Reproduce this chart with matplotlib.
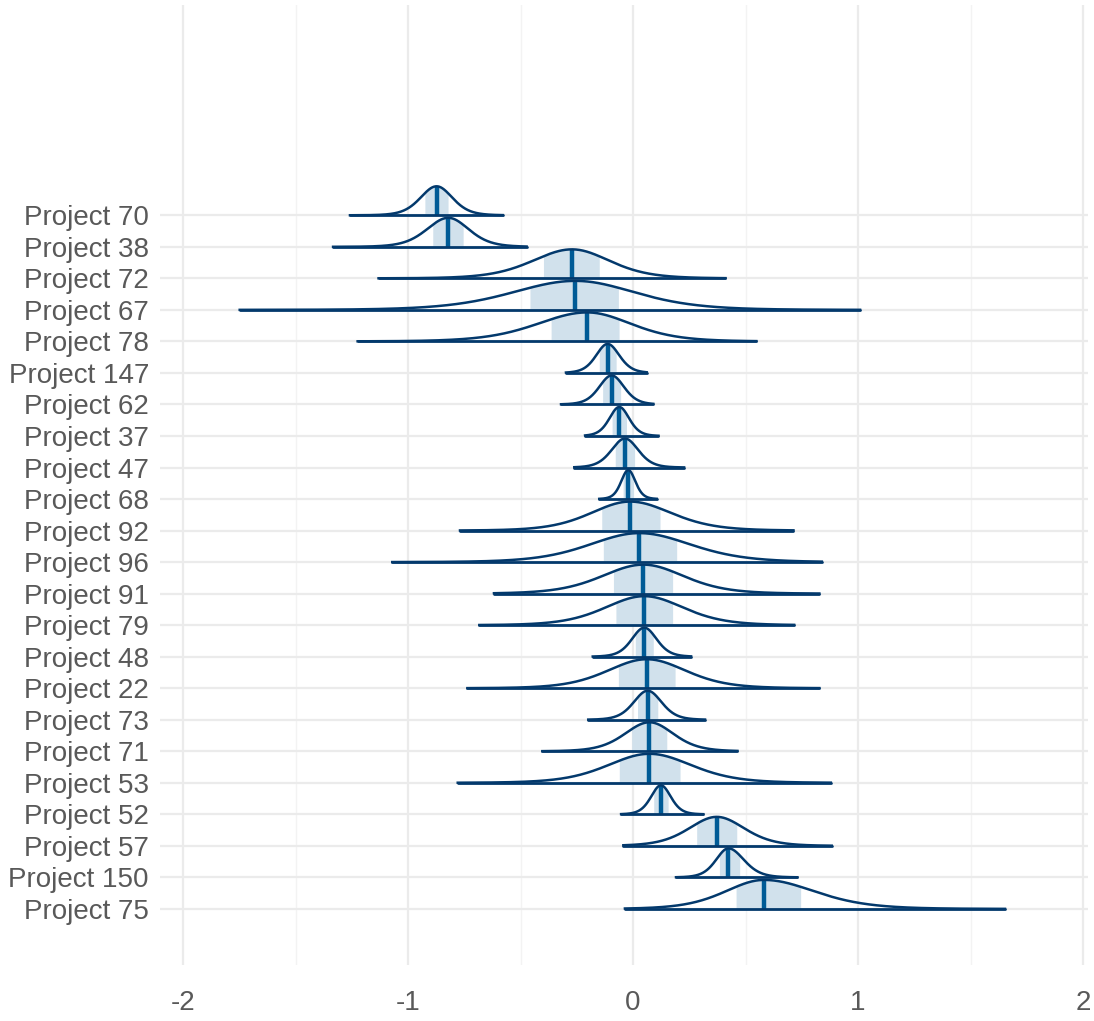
import numpy as np
import matplotlib
matplotlib.use("Agg")
import matplotlib.pyplot as plt

plt.rcParams['font.family'] = ['Liberation Sans', 'DejaVu Sans']

# top to bottom
projects = ["Project 70", "Project 38", "Project 72", "Project 67", "Project 78",
            "Project 147", "Project 62", "Project 37", "Project 47", "Project 68",
            "Project 92", "Project 96", "Project 91", "Project 79", "Project 48",
            "Project 22", "Project 73", "Project 71", "Project 53", "Project 52",
            "Project 57", "Project 150", "Project 75"]
medians = [-0.873, -0.821, -0.271, -0.256, -0.204,
           -0.113, -0.095, -0.061, -0.036, -0.021,
           -0.013, 0.028, 0.046, 0.050, 0.050,
           0.061, 0.065, 0.073, 0.073, 0.124,
           0.372, 0.424, 0.582]
inner_lo = [-0.925, -0.890, -0.398, -0.458, -0.364,
            -0.150, -0.135, -0.093, -0.079, -0.044,
            -0.139, -0.132, -0.087, -0.076, 0.010,
            -0.065, 0.020, -0.006, -0.061, 0.092,
            0.283, 0.384, 0.458]
inner_hi = [-0.822, -0.755, -0.150, -0.065, -0.062,
            -0.075, -0.055, -0.029, 0.007, 0.002,
            0.120, 0.194, 0.176, 0.176, 0.090,
            0.187, 0.110, 0.150, 0.209, 0.156,
            0.461, 0.474, 0.745]
outer_lo = [-1.258, -1.333, -1.131, -1.748, -1.224,
            -0.298, -0.320, -0.213, -0.261, -0.150,
            -0.769, -1.070, -0.618, -0.683, -0.179,
            -0.736, -0.199, -0.403, -0.779, -0.053,
            -0.043, 0.191, -0.036]
outer_hi = [-0.579, -0.473, 0.411, 1.009, 0.548,
            0.061, 0.090, 0.113, 0.227, 0.105,
            0.713, 0.839, 0.828, 0.716, 0.258,
            0.828, 0.320, 0.464, 0.879, 0.312,
            0.883, 0.730, 1.653]

light = "#d1e1ec"
mid_hl = "#005b96"
dark = "#03396c"
grid_c = "#ebebeb"
text_c = "#595959"

fig = plt.figure(figsize=(10.94, 10.21), dpi=100)
ax = fig.add_axes([0.1463, 0.0548, 0.8482, 0.9403])

n = len(projects)
height = 0.92
nu = 8.0
q50 = 0.706  # 75% quantile of t with 8 df


def shape(x, m, sl, sr):
    s = np.where(x < m, sl, sr)
    z = (x - m) / s
    return height * (1 + z ** 2 / nu) ** (-(nu + 1) / 2)


for i in range(n):
    y0 = n - 1 - i
    m = medians[i]
    sl = (m - inner_lo[i]) / q50
    sr = (inner_hi[i] - m) / q50
    x = np.linspace(outer_lo[i], outer_hi[i], 600)
    d = shape(x, m, sl, sr)
    d = d - d.min() * 0  # keep tails as they are
    xi = np.linspace(inner_lo[i], inner_hi[i], 200)
    di = shape(xi, m, sl, sr)

    z = 2 + i * 0.01
    ax.fill_between(xi, y0, y0 + di, color=light, lw=0, zorder=z)
    ax.plot([m, m], [y0, y0 + height], color=mid_hl, lw=3.2, zorder=z + 0.003,
            solid_capstyle='butt')
    ax.plot(x, y0 + d, color=dark, lw=1.8, zorder=z + 0.005)
    ax.plot([outer_lo[i], outer_hi[i]], [y0, y0], color=dark, lw=2.0,
            zorder=z + 0.006, solid_capstyle='round')

ax.set_xlim(-2.102, 2.022)
ax.set_ylim(-1.78, n - 1 + 6.67)

ax.set_xticks([-2, -1, 0, 1, 2])
ax.set_xticklabels(["-2", "-1", "0", "1", "2"])
ax.set_xticks([-1.5, -0.5, 0.5, 1.5], minor=True)
ax.set_yticks(np.arange(n))
ax.set_yticklabels(projects[::-1])

ax.grid(True, which='major', color=grid_c, lw=1.6, zorder=0)
ax.grid(True, which='minor', axis='x', color="#f3f3f3", lw=1.0, zorder=0)
ax.set_axisbelow(True)
for sp in ax.spines.values():
    sp.set_visible(False)
ax.tick_params(axis='both', which='both', length=0, labelsize=20, labelcolor=text_c)
ax.tick_params(axis='y', pad=8)
ax.tick_params(axis='x', pad=18)

fig.savefig("out.png", dpi=100, facecolor="white")
